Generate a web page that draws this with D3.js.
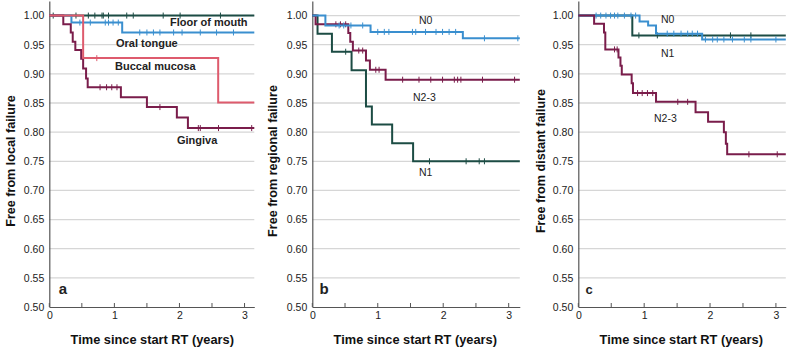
<!DOCTYPE html>
<html><head><meta charset="utf-8">
<script src="https://cdn.jsdelivr.net/npm/d3@7"></script>
<style>body{margin:0;background:#fff}svg{display:block;font-family:"Liberation Sans",Arial,sans-serif}</style>
</head><body><svg id="chart" width="788" height="349"></svg>
<script>
// ---------- data ----------
const yTicks = [0.50, 0.55, 0.60, 0.65, 0.70, 0.75, 0.80, 0.85, 0.90, 0.95, 1.00];
const xTicks = [0, 1, 2, 3];
const xMinorTicks = [0.5, 1.5, 2.5];
const panelLetters = ["a", "b", "c"];
const yLabels = ["Free from local failure", "Free from regional failure", "Free from distant failure"];
const xLabel = "Time since start RT (years)";

// Panel a: local failure by subsite  ([time, survival] after each step)
const floorSteps = [[0, 1.0]];
const floorCensor = [0.06, 0.41, 0.60, 0.70, 0.81, 0.83, 0.91, 1.19, 1.29, 1.75, 2.01, 2.63];
const tongueSteps = [[0, 1.0], [0.34, 0.988], [1.12, 0.971]];
const tongueCensor = [0.47, 0.63, 0.86, 0.91, 0.98, 1.06, 1.39, 1.50, 1.60, 1.70, 1.91, 2.04, 2.32, 2.57, 2.83];
const buccalSteps = [[0, 1.0], [0.52, 0.927], [2.595, 0.851]];
const buccalCensor = [0.73];
const gingivaSteps = [[0, 1.0], [0.215, 0.985], [0.33, 0.971], [0.36, 0.955], [0.40, 0.941], [0.49, 0.926],
  [0.52, 0.909], [0.565, 0.892], [0.59, 0.877], [1.10, 0.860], [1.50, 0.843], [1.96, 0.825], [2.13, 0.807]];
const gingivaCensor = [0.78, 0.88, 0.96, 1.04, 1.70, 2.29, 2.32, 2.60, 3.11];

// Panel b: regional failure by N stage
const bN0Steps = [[0, 1.0], [0.20, 0.983], [0.89, 0.972], [2.30, 0.961]];
const bN0Censor = [0.41, 0.48, 0.59, 0.77, 1.00, 1.10, 1.17, 1.53, 1.58, 1.73, 1.89, 1.99, 2.09, 2.19, 2.63, 3.14];
const bN1Steps = [[0, 1.0], [0.08, 0.969], [0.30, 0.938], [0.60, 0.906], [0.82, 0.844], [0.91, 0.813], [1.22, 0.781], [1.54, 0.750]];
const bN1Censor = [0.51, 1.79, 2.35, 2.55, 2.63];
const bN23Steps = [[0, 1.0], [0.05, 0.985], [0.55, 0.970], [0.58, 0.955], [0.62, 0.940], [0.82, 0.923], [0.88, 0.907], [1.12, 0.890]];
const bN23Censor = [0.36, 0.43, 0.51, 0.71, 0.77, 0.97, 1.02, 1.38, 1.63, 1.81, 1.99, 2.17, 2.22, 2.27, 2.60, 3.09];

// Panel c: distant failure by N stage
const cN0Steps = [[0, 1.0], [0.93, 0.990], [1.06, 0.983], [1.18, 0.969], [1.88, 0.959]];
const cN0Censor = [0.27, 0.34, 0.42, 0.49, 0.55, 0.60, 0.70, 0.80, 0.87, 1.35, 1.45, 1.56, 1.66, 1.73, 1.81, 1.93, 2.04, 2.11, 2.21, 2.34, 2.52, 2.62, 3.00];
const cN1Steps = [[0, 1.0], [0.82, 0.966]];
const cN1Censor = [0.92, 1.20, 2.31, 2.62];
const cN23Steps = [[0, 1.0], [0.24, 0.986], [0.39, 0.971], [0.41, 0.942], [0.61, 0.928], [0.64, 0.914], [0.66, 0.899],
  [0.81, 0.884], [0.83, 0.867], [1.18, 0.852], [1.78, 0.834], [1.97, 0.818], [2.21, 0.800], [2.24, 0.780], [2.26, 0.762]];
const cN23Censor = [0.55, 0.59, 0.90, 0.97, 1.05, 1.13, 1.51, 1.66, 2.59, 3.02];

// ---------- styling / layout ----------
const COL = {blue: "#3a8fcf", green: "#1c4c44", maroon: "#7a1d4b", red: "#de5b6d"};
const panels = [
  {left: 49.3, width: 205, xMax: 3.15, letter: {x: 63, y: 294, size: 15}, ylab: 15,
   series: [
     {steps: floorSteps, censor: floorCensor, color: COL.green},
     {steps: tongueSteps, censor: tongueCensor, color: COL.blue},
     {steps: gingivaSteps, censor: gingivaCensor, color: COL.maroon},
     {steps: buccalSteps, censor: buccalCensor, color: COL.red}],
   labels: [
     {text: "Floor of mouth", x: 170, y: 26, bold: true},
     {text: "Oral tongue", x: 116, y: 47, bold: true},
     {text: "Buccal mucosa", x: 115, y: 70, bold: true},
     {text: "Gingiva", x: 177, y: 144, bold: true}]},
  {left: 312.3, width: 207.5, xMax: 3.17, letter: {x: 324, y: 294, size: 15}, ylab: 277,
   series: [
     {steps: bN1Steps, censor: bN1Censor, color: COL.green},
     {steps: bN23Steps, censor: bN23Censor, color: COL.maroon},
     {steps: bN0Steps, censor: bN0Censor, color: COL.blue}],
   labels: [
     {text: "N0", x: 419, y: 24},
     {text: "N2-3", x: 413, y: 101},
     {text: "N1", x: 419, y: 176}]},
  {left: 578.3, width: 207.5, xMax: 3.15, letter: {x: 589, y: 294, size: 13}, ylab: 545,
   series: [
     {steps: cN1Steps, censor: cN1Censor, color: COL.green},
     {steps: cN0Steps, censor: cN0Censor, color: COL.blue},
     {steps: cN23Steps, censor: cN23Censor, color: COL.maroon}],
   labels: [
     {text: "N0", x: 661, y: 23},
     {text: "N1", x: 661, y: 57},
     {text: "N2-3", x: 654, y: 122}]}
];

const svg = d3.select("#chart");
const y = d3.scaleLinear().domain([0.5, 1.025]).range([307, 1]);

panels.forEach((p, i) => {
  const x = d3.scaleLinear().domain([0, p.xMax]).range([p.left, p.left + p.width]);
  const g = svg.append("g");

  // gridlines
  g.selectAll("line.grid").data(yTicks.filter(v => v > 0.5)).join("line")
    .attr("x1", p.left).attr("x2", p.left + p.width)
    .attr("y1", d => y(d)).attr("y2", d => y(d))
    .attr("stroke", "#d6d6d6").attr("stroke-width", 1.3);

  // y axis
  const ya = g.append("g").attr("transform", `translate(${p.left},0)`)
    .call(d3.axisLeft(y).tickValues(yTicks).tickFormat(d3.format(".2f")).tickSize(0).tickPadding(5));
  ya.select(".domain").attr("stroke", "#555").attr("stroke-width", 1.2);
  ya.selectAll("text").attr("font-size", 10.5).attr("fill", "#222").style("font-family", "Liberation Sans, Arial, sans-serif");

  // x axis
  const xa = g.append("g").attr("transform", `translate(0,307)`)
    .call(d3.axisBottom(x).tickValues(xTicks).tickFormat(d3.format("d")).tickSize(0).tickPadding(5));
  xa.select(".domain").attr("stroke", "#555").attr("stroke-width", 1.2);
  xa.selectAll("text").attr("font-size", 10.5).attr("fill", "#222").style("font-family", "Liberation Sans, Arial, sans-serif");
  g.selectAll("line.xt").data(xTicks.concat(xMinorTicks)).join("line")
    .attr("x1", d => x(d)).attr("x2", d => x(d)).attr("y1", 307).attr("y2", 303)
    .attr("stroke", "#555").attr("stroke-width", 1);

  // curves
  const line = d3.line().x(d => x(d[0])).y(d => y(d[1])).curve(d3.curveStepAfter);
  p.series.forEach(s => {
    const pts = s.steps.concat([[p.xMax, s.steps[s.steps.length - 1][1]]]);
    g.append("path").datum(pts).attr("d", line).attr("fill", "none")
      .attr("stroke", s.color).attr("stroke-width", 2);
    const valAt = t => { let v = 1; s.steps.forEach(st => { if (st[0] <= t) v = st[1]; }); return v; };
    g.selectAll(null).data(s.censor).join("line")
      .attr("x1", d => x(d)).attr("x2", d => x(d))
      .attr("y1", d => y(valAt(d)) - 3).attr("y2", d => y(valAt(d)) + 3)
      .attr("stroke", s.color).attr("stroke-width", 1);
  });

  // in-plot labels
  p.labels.forEach(l => {
    g.append("text").attr("x", l.x).attr("y", l.y).text(l.text)
      .attr("font-size", l.bold ? 11 : 10.5).attr("font-weight", l.bold ? "bold" : "normal")
      .attr("fill", "#222");
  });

  // panel letter
  g.append("text").attr("x", p.letter.x).attr("y", p.letter.y).attr("text-anchor", "middle")
    .attr("font-size", p.letter.size).attr("font-weight", "bold").attr("fill", "#222").text(panelLetters[i]);

  // axis titles
  g.append("text").attr("transform", `translate(${p.ylab},161) rotate(-90)`)
    .attr("text-anchor", "middle").attr("font-size", 12.6).attr("font-weight", "bold").attr("fill", "#111")
    .text(yLabels[i]);
  g.append("text").attr("x", p.left + 103).attr("y", 344).attr("text-anchor", "middle")
    .attr("font-size", 12.8).attr("font-weight", "bold").attr("fill", "#111").text(xLabel);
});
</script></body></html>
